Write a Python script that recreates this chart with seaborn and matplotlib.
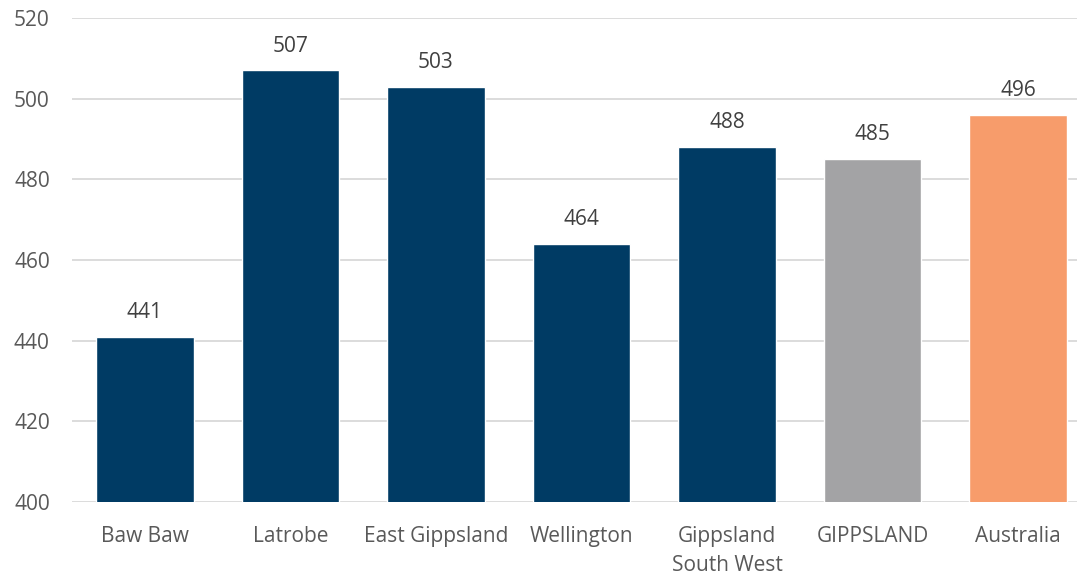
import matplotlib
matplotlib.use("Agg")
import matplotlib.pyplot as plt
import seaborn as sns
import pandas as pd

categories = ["Baw Baw", "Latrobe", "East Gippsland", "Wellington",
              "Gippsland\nSouth West", "GIPPSLAND", "Australia"]
values = [441, 507, 503, 464, 488, 485, 496]
colors = ["#003B64", "#003B64", "#003B64", "#003B64", "#003B64", "#A3A3A5", "#F79C6B"]
yticks = [400, 420, 440, 460, 480, 500, 520]

sns.set_theme(style="white")
plt.rcParams['font.family'] = ['Open Sans', 'DejaVu Sans']

df = pd.DataFrame({"cat": categories, "val": values})

fig = plt.figure(figsize=(10.77, 5.76), dpi=100)
ax = fig.add_axes([72/1077, (576-502)/576, 1 - 72/1077, (502-18)/576])

sns.barplot(data=df, x="cat", y="val", hue="cat", palette=colors, legend=False,
            width=0.67, ax=ax, saturation=1, zorder=3)

ax.set_ylim(400, 520)
ax.set_xlim(-0.5, 6.405)
ax.set_yticks(yticks)
ax.yaxis.grid(True, color="#D9D9D9", linewidth=1.3, zorder=0)
ax.set_axisbelow(True)
for s in ax.spines.values():
    s.set_visible(False)
ax.set_xlabel("")
ax.set_ylabel("")
ax.tick_params(axis="both", length=0, labelsize=15, labelcolor="#595959")
ax.tick_params(axis="x", pad=17)
ax.tick_params(axis="y", pad=16)
for lbl in ax.get_xticklabels():
    lbl.set_linespacing(1.5)

for i, v in enumerate(values):
    ax.annotate(str(v), (i, v), xytext=(0, 10), textcoords="offset points",
                ha="center", va="bottom", fontsize=15, color="#404040")

fig.savefig("out.png", dpi=100)
